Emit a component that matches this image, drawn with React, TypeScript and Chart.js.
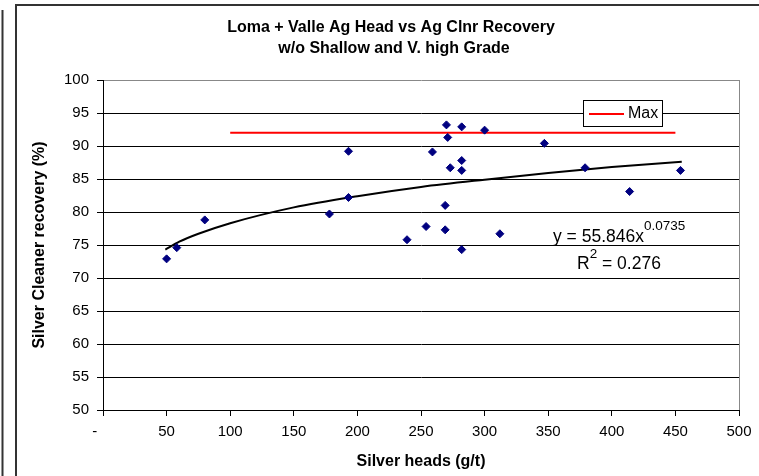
import React, { useEffect, useRef } from 'react';
import { Chart, registerables } from 'chart.js';

Chart.register(...registerables);

// ---- Data ----
const HEADS = [50, 58, 80, 178, 193, 193, 239, 270, 271, 282, 300, 259, 282, 273, 282, 347, 379, 454, 414, 269, 254, 269, 312, 282];
const RECOVERY = [72.9, 74.6, 78.8, 79.7, 89.2, 82.2, 75.8, 93.2, 91.3, 92.9, 92.4, 89.1, 87.8, 86.7, 86.3, 90.4, 86.7, 86.3, 83.1, 81.0, 77.8, 77.3, 76.7, 74.3];

const MAX_X = [100, 450];
const MAX_Y = [92, 92];

const TREND_X = [49, 60, 75, 100, 150, 200, 250, 300, 350, 400, 455];
const TREND_Y = [74.3, 75.5, 76.7, 78.3, 80.7, 82.4, 83.8, 84.9, 85.9, 86.8, 87.6];

const X_MIN = 0;
const X_MAX = 500;
const X_STEP = 50;
const Y_MIN = 50;
const Y_MAX = 100;
const Y_STEP = 5;

const TITLE_LINES = ['Loma + Valle Ag Head vs Ag Clnr Recovery', 'w/o Shallow and V. high Grade'];
const X_TITLE = 'Silver heads (g/t)';
const Y_TITLE = 'Silver Cleaner recovery (%)';
const LEGEND_LABEL = 'Max';
const EQ_MAIN = 'y = 55.846x';
const EQ_EXP = '0.0735';
const R2_VALUE = ' = 0.276';

const FONT = '"Liberation Sans", Arial, Helvetica, sans-serif';

const toPts = (xs: number[], ys: number[]) => xs.map((x, i) => ({ x, y: ys[i] }));

const decoPlugin = {
  id: 'deco',
  beforeDraw(chart: any) {
    const ctx = chart.ctx as CanvasRenderingContext2D;
    ctx.save();
    ctx.fillStyle = '#ffffff';
    ctx.fillRect(0, 0, chart.width, chart.height);
    ctx.strokeStyle = '#333333';
    ctx.lineWidth = 2;
    // far-left line
    ctx.beginPath();
    ctx.moveTo(2.5, 10);
    ctx.lineTo(2.5, chart.height);
    ctx.stroke();
    // chart frame (left + top)
    ctx.beginPath();
    ctx.moveTo(16, chart.height);
    ctx.lineTo(16, 5);
    ctx.lineTo(chart.width, 5);
    ctx.stroke();
    ctx.restore();
  },
  afterDraw(chart: any) {
    const ctx = chart.ctx as CanvasRenderingContext2D;
    const area = chart.chartArea;
    ctx.save();
    // right plot border
    ctx.strokeStyle = '#888888';
    ctx.lineWidth = 1;
    ctx.beginPath();
    ctx.moveTo(Math.round(area.right) + 0.5, area.top);
    ctx.lineTo(Math.round(area.right) + 0.5, area.bottom);
    ctx.stroke();

    // title
    ctx.fillStyle = '#000';
    ctx.textAlign = 'center';
    ctx.textBaseline = 'middle';
    ctx.font = `bold 16px ${FONT}`;
    ctx.fillText(TITLE_LINES[0], 391, 28);
    ctx.fillText(TITLE_LINES[1], 394, 49);

    // axis titles
    ctx.fillText(X_TITLE, (area.left + area.right) / 2, 462);
    ctx.save();
    ctx.translate(40, (area.top + area.bottom) / 2);
    ctx.rotate(-Math.PI / 2);
    ctx.fillText(Y_TITLE, 0, 0);
    ctx.restore();

    // legend
    const lx = 583.5, ly = 100.5, lw = 79, lh = 26;
    ctx.fillStyle = '#fff';
    ctx.fillRect(lx, ly, lw, lh);
    ctx.strokeStyle = '#000';
    ctx.lineWidth = 1;
    ctx.strokeRect(lx, ly, lw, lh);
    ctx.strokeStyle = '#ff0000';
    ctx.lineWidth = 2;
    ctx.beginPath();
    ctx.moveTo(589, 114);
    ctx.lineTo(624, 114);
    ctx.stroke();
    ctx.fillStyle = '#000';
    ctx.textAlign = 'left';
    ctx.textBaseline = 'middle';
    ctx.font = `16px ${FONT}`;
    ctx.fillText(LEGEND_LABEL, 628, 114);

    // trend equation
    ctx.textBaseline = 'alphabetic';
    ctx.font = `17.5px ${FONT}`;
    ctx.fillText(EQ_MAIN, 553, 241.5);
    const w1 = ctx.measureText(EQ_MAIN).width;
    ctx.font = `13.5px ${FONT}`;
    ctx.fillText(EQ_EXP, 553 + w1, 230);

    ctx.font = `17.5px ${FONT}`;
    ctx.fillText('R', 577, 269);
    const wr = ctx.measureText('R').width;
    ctx.font = `13.5px ${FONT}`;
    ctx.fillText('2', 577 + wr, 258);
    const w2 = ctx.measureText('2').width;
    ctx.font = `17.5px ${FONT}`;
    ctx.fillText(R2_VALUE, 577 + wr + w2, 269);
    ctx.restore();
  },
};

export default function App() {
  const ref = useRef<HTMLCanvasElement>(null);

  useEffect(() => {
    const canvas = ref.current;
    if (!canvas) return;
    const tickFont = { family: FONT, size: 15 };
    const chart = new Chart(canvas, {
      type: 'scatter',
      data: {
        datasets: [
          {
            label: 'Data',
            data: toPts(HEADS, RECOVERY),
            pointStyle: 'rectRot',
            pointRadius: 4,
            pointBackgroundColor: '#000080',
            pointBorderColor: '#000080',
            pointBorderWidth: 1,
            showLine: false,
            order: 0,
          },
          {
            label: 'Power trend',
            data: toPts(TREND_X, TREND_Y),
            showLine: true,
            borderColor: '#000000',
            borderWidth: 2,
            pointRadius: 0,
            cubicInterpolationMode: 'monotone',
            fill: false,
            order: 1,
          },
          {
            label: LEGEND_LABEL,
            data: toPts(MAX_X, MAX_Y),
            showLine: true,
            borderColor: '#ff0000',
            borderWidth: 2,
            pointRadius: 0,
            fill: false,
            order: 2,
          },
        ],
      } as any,
      options: {
        animation: false,
        responsive: false,
        events: [],
        layout: { padding: { left: 0, top: 80, right: 20, bottom: 0 } },
        plugins: {
          legend: { display: false },
          title: { display: false },
          tooltip: { enabled: false },
        },
        scales: {
          x: {
            type: 'linear',
            position: 'bottom',
            min: X_MIN,
            max: X_MAX,
            ticks: {
              stepSize: X_STEP,
              padding: 7,
              color: '#000',
              font: tickFont,
              maxRotation: 0,
              autoSkip: false,
              callback: (v: any) => (Number(v) === 0 ? '-    ' : String(v)),
            },
            grid: {
              drawOnChartArea: false,
              drawTicks: true,
              tickLength: 6,
              tickColor: '#000',
            },
            border: { display: true, color: '#000', width: 1 },
            afterFit: (s: any) => {
              s.height = 66;
            },
          },
          y: {
            type: 'linear',
            min: Y_MIN,
            max: Y_MAX,
            ticks: {
              stepSize: Y_STEP,
              padding: 8,
              color: '#000',
              font: tickFont,
            },
            grid: {
              color: (c: any) => (c.tick && c.tick.value === Y_MAX ? '#888888' : '#000000'),
              lineWidth: 1,
              drawTicks: true,
              tickLength: 6,
              tickColor: '#000',
            },
            border: { display: true, color: '#000', width: 1 },
            afterFit: (s: any) => {
              s.width = 103;
            },
          },
        },
      } as any,
      plugins: [decoPlugin],
    });
    return () => chart.destroy();
  }, []);

  return (
    <div style={{ position: 'fixed', left: 0, top: 0, width: 759, height: 476, background: '#fff' }}>
      <canvas ref={ref} width={759} height={476} style={{ width: 759, height: 476, display: 'block' }} />
    </div>
  );
}
